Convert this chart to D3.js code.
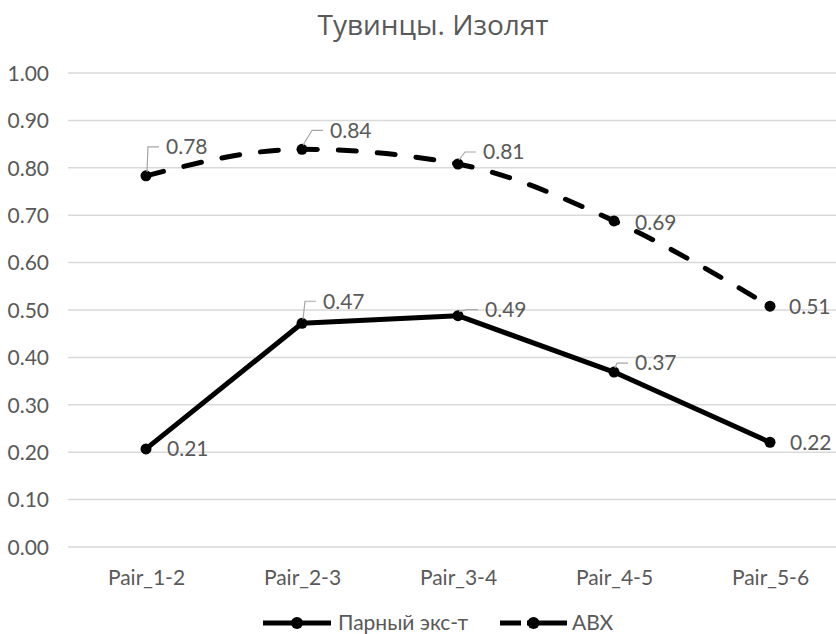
<!DOCTYPE html>
<html>
<head>
<meta charset="utf-8">
<script src="https://cdn.jsdelivr.net/npm/d3@7"></script>
<style>
  body { margin: 0; background: #fff; }
  .chart text { fill: #595959; font-family: Lato, "Open Sans", sans-serif; font-size: 21px; }
  .chart .title { font-family: "Open Sans", "Noto Sans", sans-serif; font-size: 28px; }
</style>
</head>
<body>
<svg class="chart" width="836" height="634"></svg>
<script>
// chart data
const categories = ['Pair_1-2', 'Pair_2-3', 'Pair_3-4', 'Pair_4-5', 'Pair_5-6']
const pairedValues = [0.207, 0.472, 0.488, 0.369, 0.221]
const abxValues = [0.783, 0.839, 0.808, 0.688, 0.508]
const seriesNames = ['Парный экс-т', 'ABX']
const yTicks = [0, 0.1, 0.2, 0.3, 0.4, 0.5, 0.6, 0.7, 0.8, 0.9, 1.0]
const title = 'Тувинцы. Изолят'

// label placement (pixel offsets from the point to the label's left/middle)
const pairedLabelPos = [[21, 0, false], [21, -22, true], [27, -6, true], [21, -9, true], [20, 0, false]]
const abxLabelPos = [[20, -29, true], [28, -19, true], [25, -12, true], [21, 2, false], [19, 0, false]]

const svg = d3.select('.chart')

// scales
const x = d3.scalePoint()
    .domain(categories)
    .range([68, 848])
    .padding(0.5)
const y = d3.scaleLinear()
    .domain([0, 1])
    .range([547, 73])

// title
svg.append('text')
    .attr('class', 'title')
    .attr('x', 433)
    .attr('y', 35)
    .attr('text-anchor', 'middle')
    .text(title)

// gridlines
svg.append('g').selectAll('line').data(yTicks)
  .enter().append('line')
    .attr('x1', 68)
    .attr('x2', 848)
    .attr('y1', d => y(d))
    .attr('y2', d => y(d))
    .attr('stroke', '#d9d9d9')
    .attr('stroke-width', 1.5)

// y axis labels
const yAxis = svg.append('g')
    .attr('transform', 'translate(60,0)')
    .call(d3.axisLeft(y).tickValues(yTicks).tickFormat(d3.format('.2f')).tickSize(0).tickPadding(11))
yAxis.select('.domain').remove()
yAxis.selectAll('text').attr('dy', '0.35em')

// x axis labels
const xAxis = svg.append('g')
    .attr('transform', 'translate(0,565)')
    .call(d3.axisBottom(x).tickSize(0).tickPadding(0))
xAxis.select('.domain').remove()
xAxis.selectAll('text').attr('dy', '0.35em').attr('y', 13)

// series
const line = d3.line()
    .x((d, i) => x(categories[i]))
    .y(d => y(d))

const series = [
  { name: seriesNames[0], values: pairedValues, labels: pairedLabelPos, dash: null, curve: d3.curveLinear },
  { name: seriesNames[1], values: abxValues, labels: abxLabelPos, dash: '18,21', curve: d3.curveMonotoneX }
]

series.forEach(s => {
  svg.append('path')
      .attr('d', line.curve(s.curve)(s.values))
      .attr('fill', 'none')
      .attr('stroke', '#000')
      .attr('stroke-width', 5)
      .attr('stroke-linecap', s.dash ? 'round' : 'butt')
      .attr('stroke-linejoin', 'round')
      .attr('stroke-dasharray', s.dash)

  svg.append('g').selectAll('circle').data(s.values)
    .enter().append('circle')
      .attr('cx', (d, i) => x(categories[i]))
      .attr('cy', d => y(d))
      .attr('r', 5.5)
      .attr('fill', '#000')

  // data labels with leader lines
  const lbl = svg.append('g')
  s.values.forEach((v, i) => {
    const px = x(categories[i])
    const py = y(v)
    const [dx, dy, leader] = s.labels[i]
    const tx = px + dx
    const ty = py + dy
    if (leader) {
      lbl.append('polyline')
          .attr('points', [[px + 1, py - 4], [tx - 18, ty], [tx - 7, ty]].join(' '))
          .attr('fill', 'none')
          .attr('stroke', '#a6a6a6')
          .attr('stroke-width', 1.2)
    }
    lbl.append('text')
        .attr('x', tx)
        .attr('y', ty)
        .attr('dy', '0.35em')
        .text(d3.format('.2f')(v))
  })
})

// legend
const legend = svg.append('g').attr('transform', 'translate(0,623)')
const legendItems = [
  { x0: 263, x1: 331, tx: 338, dash: null },
  { x0: 500, x1: 567, tx: 572, dash: '21,6,40' }
]
legendItems.forEach((it, i) => {
  legend.append('line')
      .attr('x1', it.x0).attr('x2', it.x1)
      .attr('y1', 0).attr('y2', 0)
      .attr('stroke', '#000')
      .attr('stroke-width', 5)
      .attr('stroke-dasharray', it.dash)
  legend.append('circle')
      .attr('cx', (it.x0 + it.x1) / 2)
      .attr('cy', 0)
      .attr('r', 6)
      .attr('fill', '#000')
  legend.append('text')
      .attr('x', it.tx)
      .attr('y', 0)
      .attr('dy', '0.35em')
      .text(seriesNames[i])
})
</script>
</body>
</html>
